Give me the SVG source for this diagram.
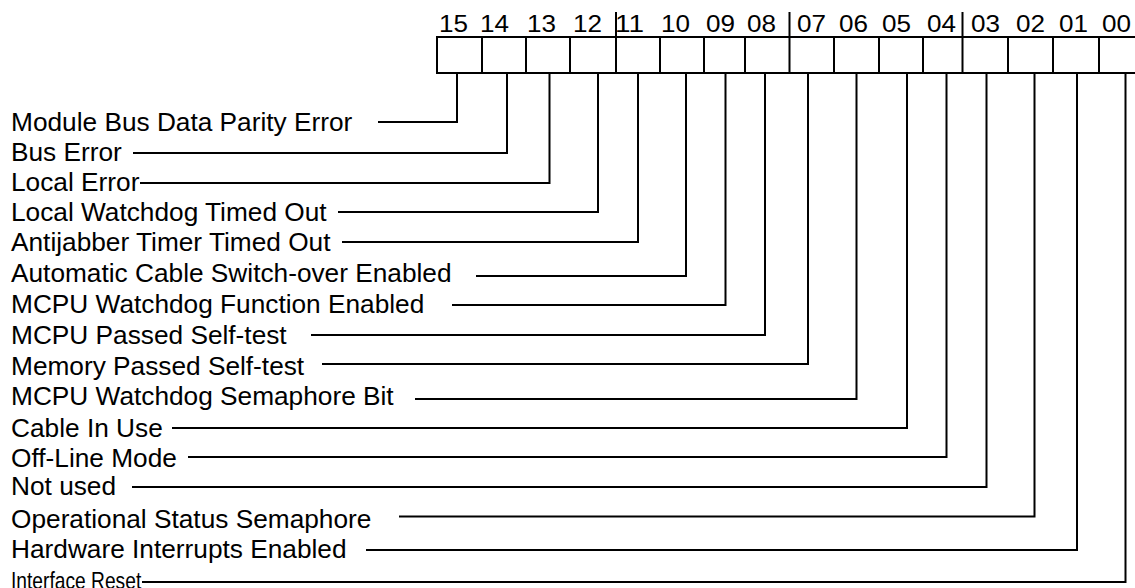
<svg xmlns="http://www.w3.org/2000/svg" width="1135" height="588" viewBox="0 0 1135 588">
<style>
.t{font-family:"Liberation Sans",Arial,sans-serif;font-size:25px;fill:#000}
.n{font-family:"Liberation Sans",Arial,sans-serif;font-size:24px;fill:#000}
.l{fill:none;stroke:#000;stroke-width:2}
</style>
<rect width="1135" height="588" fill="#fff"/>
<g id="register">
<rect class="l" x="437" y="37" width="710" height="36"/>
<path class="l" d="M482 37V73M526 37V73M570 37V73M616 12V73M660 37V73M704 37V73M745 37V73M789.5 12V73M834 37V73M879 37V73M923 37V73M962.5 12V73M1008 37V73M1053 37V73M1099 37V73"/>
<g class="n">
<text x="439" y="32" textLength="29" lengthAdjust="spacingAndGlyphs">15</text>
<text x="480" y="32" textLength="29" lengthAdjust="spacingAndGlyphs">14</text>
<text x="527" y="32" textLength="29" lengthAdjust="spacingAndGlyphs">13</text>
<text x="573" y="32" textLength="29" lengthAdjust="spacingAndGlyphs">12</text>
<text x="615" y="32" textLength="29" lengthAdjust="spacingAndGlyphs">11</text>
<text x="661" y="32" textLength="29" lengthAdjust="spacingAndGlyphs">10</text>
<text x="706" y="32" textLength="29" lengthAdjust="spacingAndGlyphs">09</text>
<text x="747" y="32" textLength="29" lengthAdjust="spacingAndGlyphs">08</text>
<text x="797" y="32" textLength="29" lengthAdjust="spacingAndGlyphs">07</text>
<text x="839" y="32" textLength="29" lengthAdjust="spacingAndGlyphs">06</text>
<text x="882" y="32" textLength="29" lengthAdjust="spacingAndGlyphs">05</text>
<text x="927" y="32" textLength="29" lengthAdjust="spacingAndGlyphs">04</text>
<text x="971" y="32" textLength="29" lengthAdjust="spacingAndGlyphs">03</text>
<text x="1016" y="32" textLength="29" lengthAdjust="spacingAndGlyphs">02</text>
<text x="1059" y="32" textLength="29" lengthAdjust="spacingAndGlyphs">01</text>
<text x="1102" y="32" textLength="29" lengthAdjust="spacingAndGlyphs">00</text>
</g>
</g>
<g id="labels" class="t" transform="scale(1.05 1)">
<text x="10.5" y="131">Module Bus Data Parity Error</text>
<text x="10.5" y="161">Bus Error</text>
<text x="10.5" y="191">Local Error</text>
<text x="10.5" y="221">Local Watchdog Timed Out</text>
<text x="10.5" y="251">Antijabber Timer Timed Out</text>
<text x="10.5" y="282">Automatic Cable Switch-over Enabled</text>
<text x="10.5" y="313">MCPU Watchdog Function Enabled</text>
<text x="10.5" y="344">MCPU Passed Self-test</text>
<text x="10.5" y="375">Memory Passed Self-test</text>
<text x="10.5" y="405">MCPU Watchdog Semaphore Bit</text>
<text x="10.5" y="437">Cable In Use</text>
<text x="10.5" y="467">Off-Line Mode</text>
<text x="10.5" y="495">Not used</text>
<text x="10.5" y="528">Operational Status Semaphore</text>
<text x="10.5" y="558">Hardware Interrupts Enabled</text>
<text x="10.5" y="589" font-size="24" textLength="124" lengthAdjust="spacingAndGlyphs">Interface Reset</text>
</g>
<g id="connectors" class="l">
<path d="M378 122H457V73"/>
<path d="M133 153H507V73"/>
<path d="M140 183H549.5V73"/>
<path d="M338 212H598V73"/>
<path d="M342 242H638V73"/>
<path d="M476 276H686V73"/>
<path d="M452 305H725.5V73"/>
<path d="M311 335H765V73"/>
<path d="M322 364H808V73"/>
<path d="M415 399H856.5V73"/>
<path d="M172 428H907V73"/>
<path d="M188 457H946.5V73"/>
<path d="M132 487H986.5V73"/>
<path d="M399 516.5H1034.5V73"/>
<path d="M366 550H1077V73"/>
<path d="M142 582H1125.5V73"/>
</g>
</svg>
